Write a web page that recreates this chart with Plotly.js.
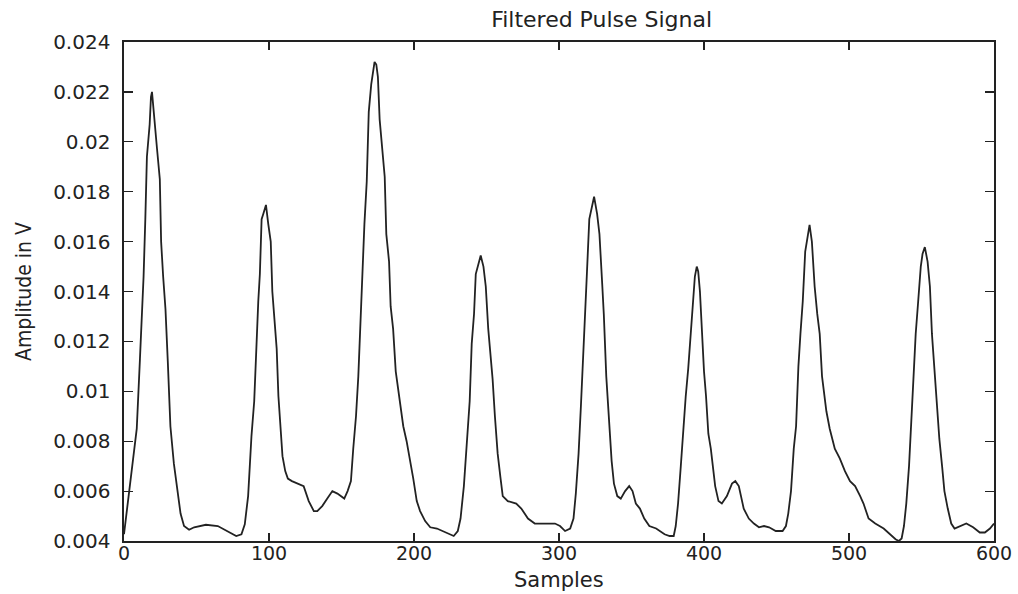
<!DOCTYPE html>
<html>
<head>
<meta charset="utf-8">
<script src="https://cdn.plot.ly/plotly-3.0.1.min.js"></script>
<style>
  html, body { margin: 0; padding: 0; background: #ffffff; }
  #chart { width: 1018px; height: 594px; }
</style>
</head>
<body>
<div id="chart"></div>
<script>
const samples = [
  0, 3, 6.5, 8.8, 11, 12.3, 13.5, 14.7, 15.8, 17.7, 18.6, 19.3, 21, 22.8, 24.7, 25.6, 27, 28.6, 30.2, 32,
  34.4, 36.7, 39, 41.4, 44.9, 48.4, 56.5, 64.7, 71.6, 77.4, 81, 83.3, 85.6, 87.9, 89.8, 91.4, 92.6, 93.7, 94.9, 96,
  97.9, 99.5, 101.2, 102.3, 103.7, 105.3, 106.5, 108.1, 109.3, 111.2, 113, 115.8, 120.5, 123.9, 127.4, 130.9, 133.3, 136.7, 140.2, 143.7,
  147.2, 151.9, 154.2, 156.5, 158.1, 160, 161.6, 162.8, 164.2, 165.8, 167.4, 168.8, 170.5, 172.8, 174, 175.1, 176.3, 178.1, 179.8, 180.9,
  182.8, 183.9, 185.6, 187.4, 189.1, 190.7, 192.6, 194.9, 197.2, 199.5, 201.9, 204.2, 207.7, 211.2, 215.8, 221.6, 227.4, 230.2, 232.1, 234.4,
  236.7, 238.4, 239.8, 241.4, 242.6, 244.2, 246, 247.9, 249.5, 251.2, 252.6, 254.2, 255.8, 257.7, 259.5, 261.2, 264.7, 270.5, 274, 278.6,
  283.3, 290.2, 297.2, 300.7, 304.2, 307.7, 310, 311.6, 313.5, 315.1, 316.9, 318.1, 319.3, 320.9, 322.8, 324.2, 326.3, 327.9, 329.8, 330.9,
  332.6, 334.4, 336.3, 337.9, 340.2, 342.6, 345.6, 348.4, 350.7, 353, 355.8, 358.8, 362.3, 367, 372.8, 376.3, 379.1, 380.5, 382.1, 384,
  385.6, 387.4, 389.1, 390.7, 392.1, 393.7, 395, 396, 397.2, 398.4, 400, 401.4, 403, 404.7, 406, 407.7, 410, 412.3, 415.8, 419.3,
  421.6, 424, 427.4, 430.9, 434.4, 437.9, 441.4, 444.9, 449.5, 454.2, 456.5, 458.1, 460, 461.9, 463.5, 465.1, 466.5, 468.1, 469.8, 471.6,
  472.8, 474.4, 476.3, 478.1, 479.8, 481.4, 483.3, 484.4, 486.7, 490.2, 493.7, 497.2, 500.7, 504.2, 507.7, 510, 513.5, 518.1, 523.9, 528.6,
  532.1, 534.4, 536.3, 537.9, 539.5, 541.4, 543, 544.4, 546, 547.7, 549.5, 550.7, 552.3, 554.2, 555.8, 557.2, 558.8, 560.5, 562.3, 564.2,
  565.8, 568.1, 570.5, 572.8, 576.3, 580.9, 585.6, 590.2, 593.7, 597.2, 600
];
const amplitude = [
  0.00427, 0.0057, 0.0072, 0.0085, 0.0113, 0.0129, 0.0146, 0.0169, 0.0194, 0.0207, 0.0218, 0.0220, 0.0207, 0.0197, 0.0185, 0.0160, 0.0146, 0.0133, 0.0112, 0.0086,
  0.0071, 0.0060, 0.0051, 0.0046, 0.00445, 0.00455, 0.00465, 0.0046, 0.0044, 0.0042, 0.00427, 0.00467, 0.0058, 0.0082, 0.0096, 0.0121, 0.0136, 0.0147, 0.0169, 0.0171,
  0.01747, 0.0167, 0.0160, 0.0140, 0.0129, 0.0117, 0.0098, 0.0086, 0.0074, 0.0068, 0.0065, 0.0064, 0.0063, 0.0062, 0.0056, 0.0052, 0.0052, 0.0054, 0.0057, 0.0060,
  0.0059, 0.0057, 0.0060, 0.0064, 0.0077, 0.0090, 0.0106, 0.0123, 0.0150, 0.0167, 0.0184, 0.0212, 0.0223, 0.0232, 0.0231, 0.0226, 0.0209, 0.0197, 0.0186, 0.0163,
  0.0152, 0.0134, 0.0125, 0.0108, 0.0101, 0.0093, 0.0086, 0.0080, 0.0073, 0.0065, 0.0056, 0.0052, 0.0048, 0.00455, 0.0045, 0.00434, 0.0042, 0.0044, 0.0049, 0.0062,
  0.0083, 0.0096, 0.0119, 0.0131, 0.0147, 0.0151, 0.01544, 0.0150, 0.0142, 0.0125, 0.0116, 0.0105, 0.0090, 0.0075, 0.0066, 0.0058, 0.0056, 0.0055, 0.0053, 0.0049,
  0.0047, 0.0047, 0.0047, 0.0046, 0.0044, 0.0045, 0.0049, 0.0059, 0.0075, 0.0094, 0.0120, 0.0133, 0.0148, 0.0169, 0.0175, 0.0178, 0.0171, 0.0163, 0.0143, 0.0131,
  0.0106, 0.0090, 0.0072, 0.0063, 0.0058, 0.0057, 0.0060, 0.0062, 0.0060, 0.0055, 0.0053, 0.0049, 0.0046, 0.0045, 0.00427, 0.0042, 0.0042, 0.0046, 0.0055, 0.0070,
  0.0085, 0.0098, 0.0109, 0.0123, 0.0136, 0.0146, 0.0150, 0.0148, 0.0140, 0.0125, 0.0108, 0.0098, 0.0083, 0.0077, 0.0071, 0.0062, 0.0056, 0.0055, 0.0058, 0.0063,
  0.0064, 0.0062, 0.0053, 0.0049, 0.0047, 0.00455, 0.0046, 0.00455, 0.0044, 0.0044, 0.0046, 0.0051, 0.0060, 0.0077, 0.0086, 0.0110, 0.0123, 0.0136, 0.0156, 0.0163,
  0.01667, 0.0160, 0.0142, 0.0131, 0.0123, 0.0106, 0.0098, 0.0092, 0.0085, 0.0077, 0.0073, 0.0068, 0.0064, 0.0062, 0.0058, 0.0055, 0.0049, 0.0047, 0.0045, 0.00427,
  0.00407, 0.0040, 0.0041, 0.0046, 0.0055, 0.0070, 0.0089, 0.0102, 0.0123, 0.0136, 0.0150, 0.0155, 0.01578, 0.0152, 0.0142, 0.0123, 0.0109, 0.0098, 0.0081, 0.0070,
  0.0060, 0.0053, 0.0047, 0.0045, 0.0046, 0.0047, 0.00455, 0.00434, 0.00434, 0.0045, 0.0047
];
const xTickVals = [0, 100, 200, 300, 400, 500, 600];
const xTickText = ['0', '100', '200', '300', '400', '500', '600'];
const yTickVals = [0.004, 0.006, 0.008, 0.010, 0.012, 0.014, 0.016, 0.018, 0.020, 0.022, 0.024];
const yTickText = ['0.004', '0.006', '0.008', '0.01', '0.012', '0.014', '0.016', '0.018', '0.02', '0.022', '0.024'];
const chartTitle = 'Filtered Pulse Signal';
const xLabel = 'Samples';
const yLabel = 'Amplitude in V';

const tickFont = { family: 'DejaVu Sans, sans-serif', size: 19, color: '#222222' };

const trace = {
  x: samples,
  y: amplitude,
  type: 'scatter',
  mode: 'lines',
  line: { color: '#222222', width: 1.8 },
  hoverinfo: 'skip'
};

const layout = {
  width: 1018,
  height: 594,
  margin: { l: 124, r: 24, t: 42, b: 53 },
  paper_bgcolor: '#ffffff',
  plot_bgcolor: '#ffffff',
  showlegend: false,
  title: {
    text: chartTitle,
    font: { family: 'DejaVu Sans, sans-serif', size: 22, color: '#222222' },
    x: 0.549, xanchor: 'center', xref: 'paper',
    y: 1 - 19 / 594, yanchor: 'middle', yref: 'container'
  },
  xaxis: {
    range: [0, 600],
    tickvals: xTickVals,
    ticktext: xTickText,
    ticks: 'inside',
    ticklen: 8,
    tickwidth: 1.2,
    tickcolor: '#222222',
    showline: true,
    linecolor: '#222222',
    linewidth: 1.6,
    mirror: 'ticks',
    showgrid: false,
    zeroline: false,
    tickfont: tickFont,
    ticklabelstandoff: -5,
    showticklabels: true,
    automargin: false,
    fixedrange: true
  },
  yaxis: {
    range: [0.004, 0.024],
    tickvals: yTickVals,
    ticktext: yTickText,
    ticks: 'inside',
    ticklen: 9,
    tickwidth: 1.2,
    tickcolor: '#222222',
    showline: true,
    linecolor: '#222222',
    linewidth: 1.6,
    mirror: 'ticks',
    showgrid: false,
    zeroline: false,
    tickfont: { family: 'DejaVu Sans, sans-serif', size: 20, color: '#222222' },
    ticklabelstandoff: 8,
    title: {
      text: yLabel,
      font: { family: 'Liberation Sans Narrow, DejaVu Sans Condensed, Liberation Sans, sans-serif', size: 21, color: '#222222' },
      standoff: 16
    },
    automargin: false,
    fixedrange: true
  },
  annotations: [
    {
      text: xLabel,
      xref: 'paper', yref: 'paper',
      x: 0.5, y: -39 / 499,
      xanchor: 'center', yanchor: 'middle',
      showarrow: false,
      font: { family: 'DejaVu Sans, sans-serif', size: 21, color: '#222222' }
    }
  ]
};

Plotly.newPlot('chart', [trace], layout, { displayModeBar: false, staticPlot: true });
</script>
</body>
</html>
